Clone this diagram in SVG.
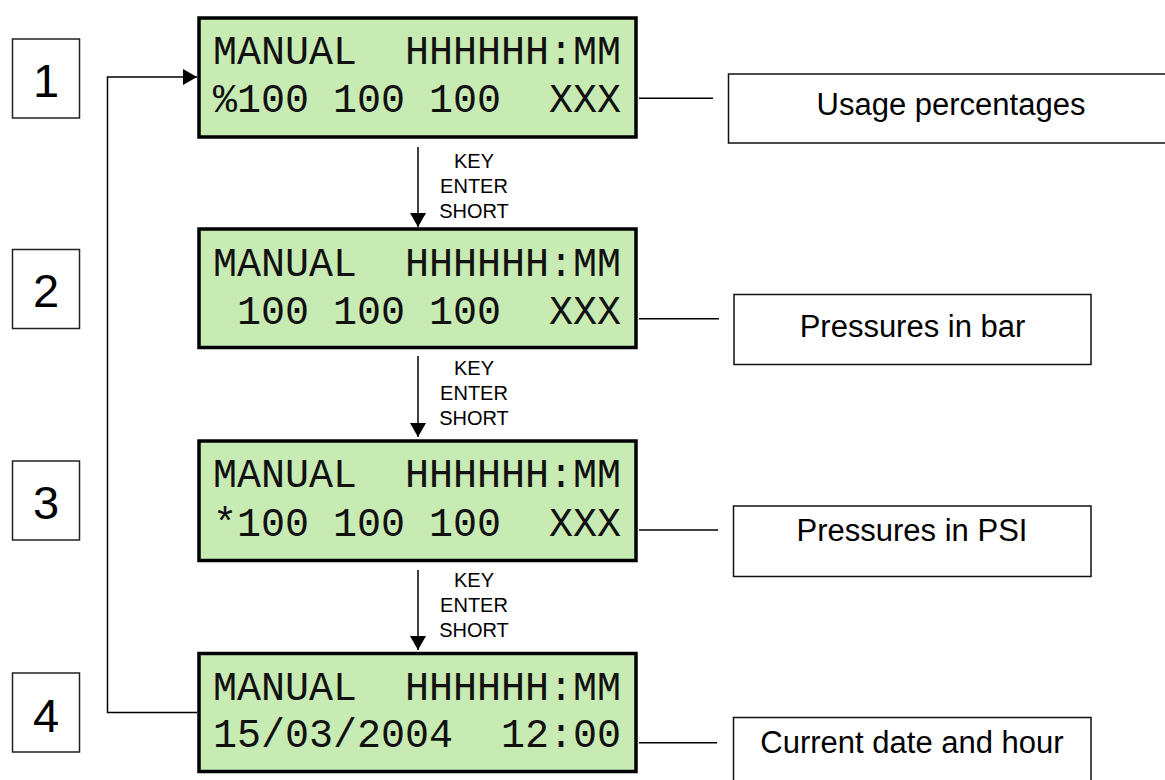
<svg xmlns="http://www.w3.org/2000/svg" width="1165" height="780" viewBox="0 0 1165 780">
<style>
.lcd{fill:#c8ebb4;stroke:#000;stroke-width:3.5}
.lt{font-family:"Liberation Mono","Courier New",monospace;font-size:40px;fill:#111;white-space:pre}
.num{fill:#fff;stroke:#222;stroke-width:1.5}
.nt{font-family:"Liberation Sans",Arial,sans-serif;font-size:47px;fill:#000;text-anchor:middle}
.lab{fill:#fff;stroke:#111;stroke-width:1.5}
.labt{font-family:"Liberation Sans",Arial,sans-serif;font-size:31px;fill:#000;text-anchor:middle}
.kt{font-family:"Liberation Sans",Arial,sans-serif;font-size:20px;fill:#000;text-anchor:middle}
.ln{fill:none;stroke:#000;stroke-width:1.5}
</style>
<defs>
<marker id="ah" viewBox="0 0 14 16" refX="14" refY="8" markerWidth="14" markerHeight="16" markerUnits="userSpaceOnUse" orient="auto">
<path d="M0,0 L14,8 L0,16 Z" fill="#000"/>
</marker>
</defs>
<rect width="1165" height="780" fill="#fff"/>

<g id="step1">
<rect class="num" x="12.5" y="39" width="67" height="79"/>
<text class="nt" x="46" y="96.5">1</text>
</g>
<g id="step2">
<rect class="num" x="12.5" y="249.5" width="67" height="79"/>
<text class="nt" x="46" y="306.5">2</text>
</g>
<g id="step3">
<rect class="num" x="12.5" y="461" width="67" height="79"/>
<text class="nt" x="46" y="519">3</text>
</g>
<g id="step4">
<rect class="num" x="12.5" y="673" width="67" height="79"/>
<text class="nt" x="46" y="731.5">4</text>
</g>

<g id="lcd1">
<rect class="lcd" x="199" y="18" width="437" height="119"/>
<text class="lt" x="213" y="64">MANUAL  HHHHHH:MM</text>
<text class="lt" x="213" y="112">%100 100 100  XXX</text>
</g>
<g id="lcd2">
<rect class="lcd" x="199" y="229" width="437" height="118.5"/>
<text class="lt" x="213" y="275.5">MANUAL  HHHHHH:MM</text>
<text class="lt" x="213" y="324"> 100 100 100  XXX</text>
</g>
<g id="lcd3">
<rect class="lcd" x="199" y="441" width="437" height="119.5"/>
<text class="lt" x="213" y="486.5">MANUAL  HHHHHH:MM</text>
<text class="lt" x="213" y="535.5">*100 100 100  XXX</text>
</g>
<g id="lcd4">
<rect class="lcd" x="199" y="653.5" width="437" height="118"/>
<text class="lt" x="213" y="700">MANUAL  HHHHHH:MM</text>
<text class="lt" x="213" y="746.5">15/03/2004  12:00</text>
</g>

<g id="label1">
<rect class="lab" x="728.5" y="74" width="445" height="69"/>
<text class="labt" x="951" y="114.5">Usage percentages</text>
</g>
<g id="label2">
<rect class="lab" x="734" y="294.5" width="357" height="70"/>
<text class="labt" x="912.5" y="336.5">Pressures in bar</text>
</g>
<g id="label3">
<rect class="lab" x="733.5" y="506" width="357.5" height="70.5"/>
<text class="labt" x="912" y="541">Pressures in PSI</text>
</g>
<g id="label4">
<rect class="lab" x="733.5" y="717.5" width="357.5" height="80"/>
<text class="labt" x="912" y="753">Current date and hour</text>
</g>

<g id="connectors">
<path class="ln" d="M197,712.5 H107.5 V77 H197" marker-end="url(#ah)"/>
<path class="ln" d="M418,147 V227" marker-end="url(#ah)"/>
<path class="ln" d="M418,356 V437" marker-end="url(#ah)"/>
<path class="ln" d="M418,570 V650" marker-end="url(#ah)"/>
<line class="ln" x1="639" y1="98.3" x2="713" y2="98.3"/>
<line class="ln" x1="639" y1="318.7" x2="719" y2="318.7"/>
<line class="ln" x1="639" y1="530" x2="718" y2="530"/>
<line class="ln" x1="639" y1="742.7" x2="717" y2="742.7"/>
<text class="kt" x="474" y="168">KEY</text>
<text class="kt" x="474" y="193">ENTER</text>
<text class="kt" x="474" y="218">SHORT</text>
<text class="kt" x="474" y="375">KEY</text>
<text class="kt" x="474" y="400">ENTER</text>
<text class="kt" x="474" y="425">SHORT</text>
<text class="kt" x="474" y="586.5">KEY</text>
<text class="kt" x="474" y="612">ENTER</text>
<text class="kt" x="474" y="637">SHORT</text>
</g>
</svg>
